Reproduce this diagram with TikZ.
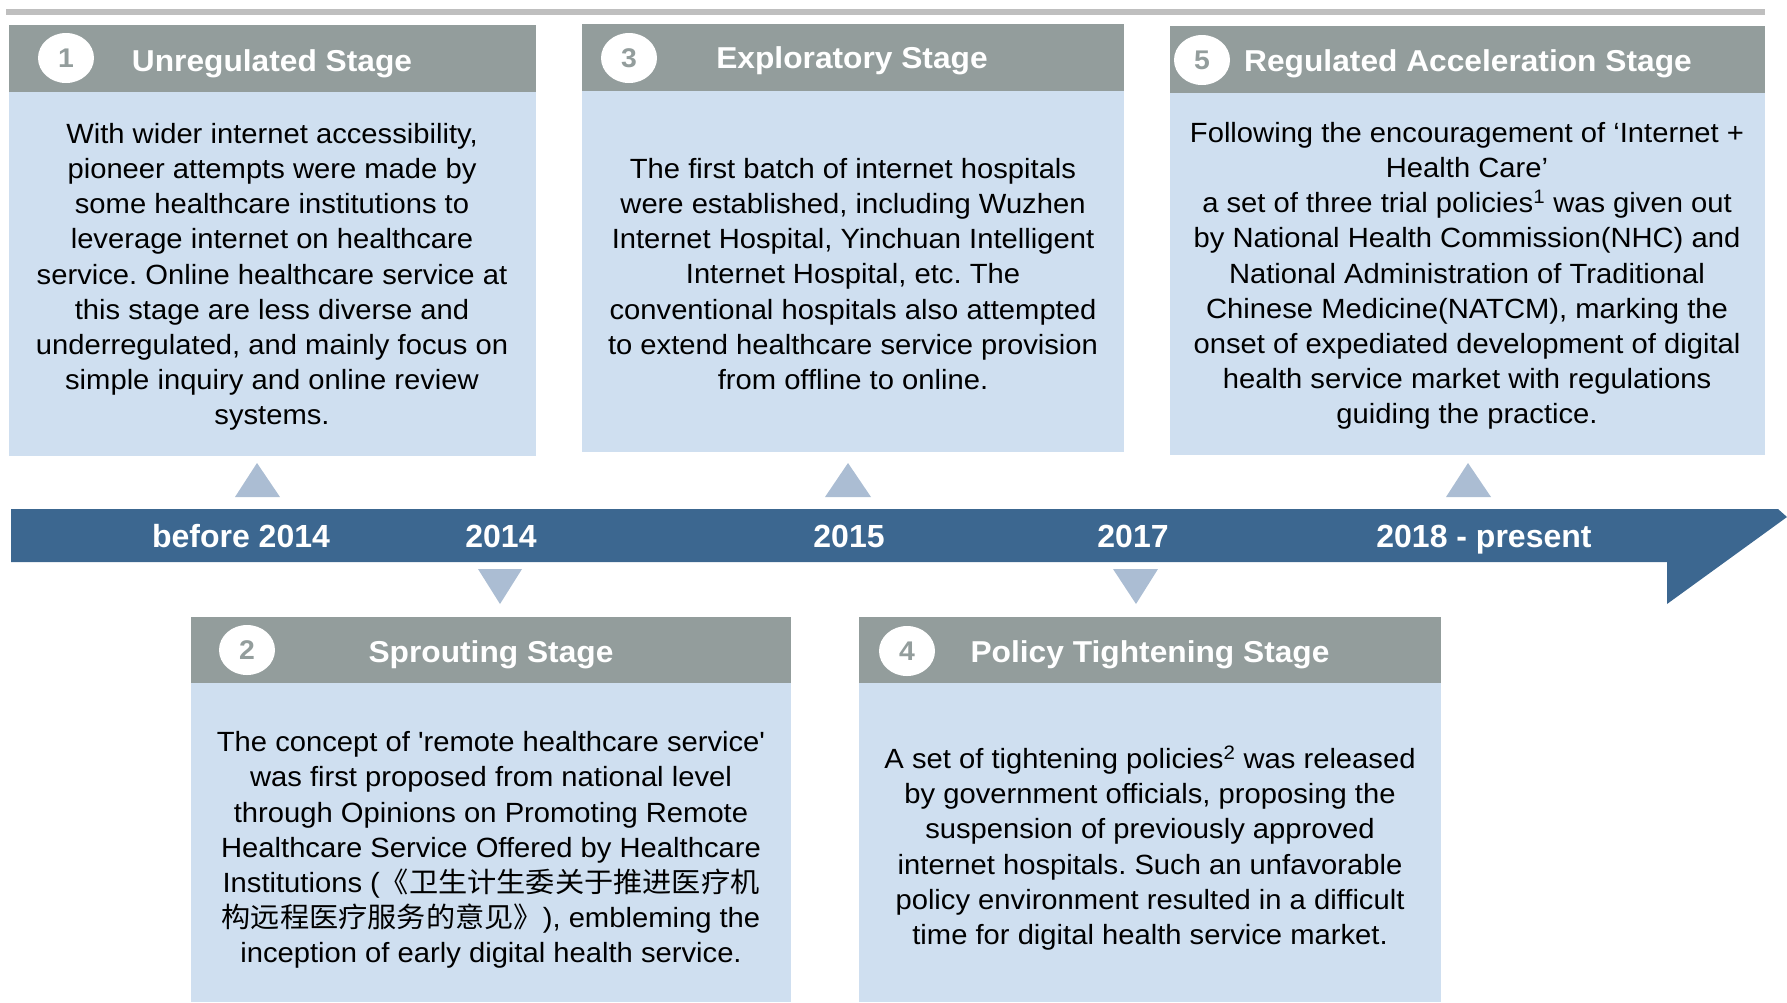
\documentclass[tikz,border=0pt]{standalone}
\usepackage{fontspec}
\usetikzlibrary{shapes.geometric}
\newfontfamily\mainf{Liberation Sans}[FakeStretch=1.05]
\newfontfamily\yearf{Liberation Sans}
\newfontfamily\cjkf{Noto Sans CJK SC}[FakeStretch=1.05]
\definecolor{hdrgray}{RGB}{147,157,156}
\definecolor{bodyblue}{RGB}{207,223,240}
\definecolor{bandblue}{RGB}{60,103,144}
\definecolor{trifill}{RGB}{171,189,211}
\definecolor{topline}{RGB}{191,191,191}
\tikzset{
  hdr/.style={fill=hdrgray, draw=none, inner sep=0pt, outer sep=0pt, anchor=north west},
  bodybox/.style={fill=bodyblue, draw=none, inner sep=0pt, outer sep=0pt, anchor=north west},
  num/.style={ellipse, fill=white, draw=none, minimum width=56pt, minimum height=50pt, inner sep=0pt, text=hdrgray, font=\mainf\bfseries\fontsize{27}{30}\selectfont},
  ttl/.style={text=white, anchor=base, inner sep=0pt, font=\mainf\bfseries\fontsize{30.2}{34}\selectfont},
  bodytext/.style={align=center, inner sep=0pt, text=black, font=\mainf\fontsize{27.8}{35.2}\selectfont},
  yr/.style={text=white, anchor=base, inner sep=0pt, font=\yearf\bfseries\fontsize{32}{36}\selectfont},
  tri/.style={fill=trifill, draw=none},
}
\frenchspacing
\begin{document}
\begin{tikzpicture}[x=1pt,y=-1pt]
\useasboundingbox (0,0) rectangle (1787,1002);
% top rule
\fill[topline] (6,9) rectangle (1765,15);
% stage 1
\node[hdr, minimum width=527pt, minimum height=67pt] (h1) at (9,25) {};
\node[bodybox, minimum width=527pt, minimum height=364pt] (b1) at (9,92) {};
\node[num] (c1) at (66,58) {1};
\node[ttl] (t1) at (272,71) {Unregulated Stage};
\node[bodytext] (x1) at (272,277) {With wider internet accessibility,\\
pioneer attempts were made by\\
some healthcare institutions to\\
leverage internet on healthcare\\
service. Online healthcare service at\\
this stage are less diverse and\\
underregulated, and mainly focus on\\
simple inquiry and online review\\
systems.};
% stage 3
\node[hdr, minimum width=542pt, minimum height=67pt] (h3) at (582,24) {};
\node[bodybox, minimum width=542pt, minimum height=361pt] (b3) at (582,91) {};
\node[num] (c3) at (629,58) {3};
\node[ttl] (t3) at (852,68) {Exploratory Stage};
\node[bodytext] (x3) at (853,274) {The first batch of internet hospitals\\
were established, including Wuzhen\\
Internet Hospital, Yinchuan Intelligent\\
Internet Hospital, etc. The\\
conventional hospitals also attempted\\
to extend healthcare service provision\\
from offline to online.};
% stage 5
\node[hdr, minimum width=595pt, minimum height=67pt] (h5) at (1170,26) {};
\node[bodybox, minimum width=595pt, minimum height=362pt] (b5) at (1170,93) {};
\node[num] (c5) at (1202,60) {5};
\node[ttl] (t5) at (1468,71) {Regulated Acceleration Stage};
\node[bodytext] (x5) at (1467,276) {Following the encouragement of ‘Internet +\\
Health Care’\\
a set of three trial policies\textsuperscript{1} was given out\\
by National Health Commission(NHC) and\\
National Administration of Traditional\\
Chinese Medicine(NATCM), marking the\\
onset of expediated development of digital\\
health service market with regulations\\
guiding the practice.};
% stage 2
\node[hdr, minimum width=600pt, minimum height=66pt] (h2) at (191,617) {};
\node[bodybox, minimum width=600pt, minimum height=319pt] (b2) at (191,683) {};
\node[num] (c2) at (247,650) {2};
\node[ttl] (t2) at (491,662) {Sprouting Stage};
\node[bodytext] (x2) at (491,850) {The concept of 'remote healthcare service'\\
was first proposed from national level\\
through Opinions on Promoting Remote\\
Healthcare Service Offered by Healthcare\\
Institutions ({\cjkf 《卫生计生委关于推进医疗机}\\
{\cjkf 构远程医疗服务的意见》}), embleming the\\
inception of early digital health service.};
% stage 4
\node[hdr, minimum width=582pt, minimum height=66pt] (h4) at (859,617) {};
\node[bodybox, minimum width=582pt, minimum height=319pt] (b4) at (859,683) {};
\node[num] (c4) at (907,651) {4};
\node[ttl] (t4) at (1150,662) {Policy Tightening Stage};
\node[bodytext] (x4) at (1150,848) {A set of tightening policies\textsuperscript{2} was released\\
by government officials, proposing the\\
suspension of previously approved\\
internet hospitals. Such an unfavorable\\
policy environment resulted in a difficult\\
time for digital health service market.};
% timeline band
\fill[bandblue] (11,509) -- (1778,509) -- (1787,517) -- (1667,604) -- (1667,562) -- (11,562) -- cycle;
\node[yr] (y0) at (241,547) {before 2014};
\node[yr] (y1) at (501,547) {2014};
\node[yr] (y2) at (849,547) {2015};
\node[yr] (y3) at (1133,547) {2017};
\node[yr] (y4) at (1484,547) {2018 - present};
% markers
\fill[tri] (235,497) -- (257,463) -- (280,497) -- cycle;
\fill[tri] (825,497) -- (848,463) -- (871,497) -- cycle;
\fill[tri] (1446,497) -- (1468,463) -- (1491,497) -- cycle;
\fill[tri] (478,569) -- (500,604) -- (522,569) -- cycle;
\fill[tri] (1113,569) -- (1136,604) -- (1158,569) -- cycle;
\end{tikzpicture}
\end{document}
